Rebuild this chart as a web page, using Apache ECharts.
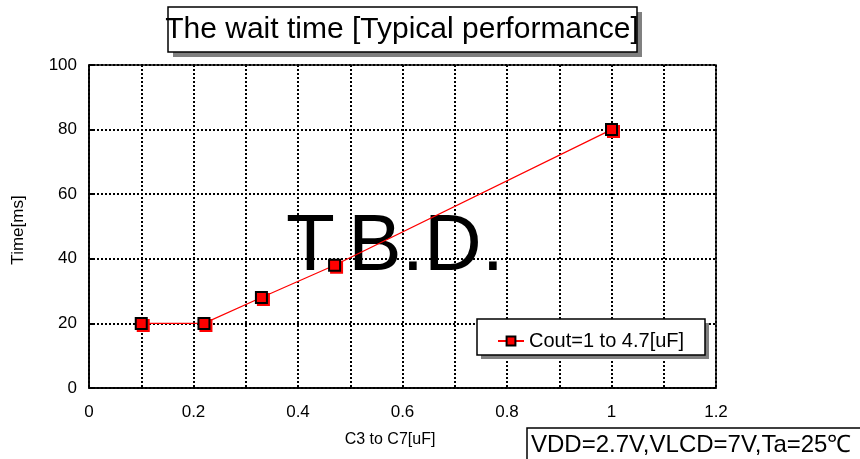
<!DOCTYPE html>
<html>
<head>
<meta charset="utf-8">
<script src="https://cdn.jsdelivr.net/npm/echarts@6/dist/echarts.min.js"></script>
<style>html,body{margin:0;padding:0;background:#fff}#c{width:860px;height:459px}</style>
</head>
<body>
<div id="c"></div>
<script>
const titleText = 'The wait time [Typical performance]';
const xName = 'C3 to C7[uF]';
const yName = 'Time[ms]';
const seriesName = 'Cout=1 to 4.7[uF]';
const noteText = 'VDD=2.7V,VLCD=7V,Ta=25℃';
const watermark = 'T.B.D.';
const xValues = [0.1, 0.22, 0.33, 0.47, 1.0];
const yValues = [20, 20, 28, 38, 80];
const xTicks = [0, 0.2, 0.4, 0.6, 0.8, 1, 1.2];

const FONT = '"Liberation Sans", Arial, sans-serif';
const chart = echarts.init(document.getElementById('c'), null, {renderer: 'canvas'});
const data = xValues.map((x, i) => [x, yValues[i]]);

chart.setOption({
  animation: false,
  backgroundColor: '#fff',
  textStyle: {fontFamily: FONT},
  grid: {left: 89, top: 65, right: 144, bottom: 71, show: false},
  xAxis: {
    type: 'value', min: 0, max: 1.2, interval: 0.1,
    axisLine: {show: true, onZero: false, lineStyle: {color: '#000', width: 1.5}},
    axisTick: {show: false},
    axisLabel: {
      color: '#000', fontSize: 17, fontFamily: FONT, margin: 16,
      formatter: v => {
        const r = Math.round(v * 10) / 10;
        return xTicks.some(t => Math.abs(t - r) < 1e-6) ? String(r) : '';
      }
    },
    splitLine: {show: true, lineStyle: {color: '#000', width: 2, type: [2, 2]}}
  },
  yAxis: {
    type: 'value', min: 0, max: 100, interval: 20,
    axisLine: {show: true, lineStyle: {color: '#000', width: 1.5}},
    axisTick: {show: true, inside: true, length: 6, lineStyle: {color: '#000', width: 2}},
    axisLabel: {color: '#000', fontSize: 17, fontFamily: FONT, margin: 12},
    splitLine: {show: true, lineStyle: {color: '#000', width: 2, type: [2, 2]}}
  },
  legend: {
    show: true,
    z: 30, zlevel: 0,
    left: 492, top: 326,
    itemWidth: 26, itemHeight: 11, itemGap: 0,
    textStyle: {color: '#000', fontSize: 20, fontFamily: FONT},
    data: [seriesName]
  },
  graphic: [
    {type: 'rect', z: 5, silent: true, shape: {x: 89, y: 65, width: 627, height: 323}, style: {fill: null, stroke: '#000', lineWidth: 1.5}},
    {type: 'text', z: 1, silent: true, style: {x: 395, y: 248, text: watermark, font: '80px ' + FONT, fill: '#000', align: 'center', verticalAlign: 'middle'}},
    {type: 'rect', z: 10, shape: {x: 173, y: 12, width: 469, height: 45}, style: {fill: '#808080'}},
    {type: 'rect', z: 11, shape: {x: 168, y: 7, width: 469, height: 45}, style: {fill: '#fff', stroke: '#000', lineWidth: 1.5}},
    {type: 'text', z: 12, style: {x: 402, y: 30, text: titleText, font: '30px ' + FONT, fill: '#000', align: 'center', verticalAlign: 'middle'}},
    {type: 'rect', z: 10, shape: {x: 481, y: 323, width: 228, height: 36}, style: {fill: '#808080'}},
    {type: 'rect', z: 11, shape: {x: 477, y: 319, width: 228, height: 36}, style: {fill: '#fff', stroke: '#000', lineWidth: 1.5}},
    {type: 'text', z: 12, style: {x: 390, y: 440, text: xName, font: '16px ' + FONT, fill: '#000', align: 'center', verticalAlign: 'middle'}},
    {type: 'text', z: 12, rotation: Math.PI / 2, x: 18, y: 230, style: {x: 0, y: 0, text: yName, font: '17px ' + FONT, fill: '#000', align: 'center', verticalAlign: 'middle'}},
    {type: 'rect', z: 11, shape: {x: 527, y: 428, width: 340, height: 40}, style: {fill: '#fff', stroke: '#000', lineWidth: 1.5}},
    {type: 'text', z: 12, style: {x: 531, y: 445, text: noteText, font: '24px ' + FONT, fill: '#000', align: 'left', verticalAlign: 'middle'}}
  ],
  series: [{
    name: seriesName,
    type: 'line',
    z: 20,
    data: data,
    symbol: 'rect',
    symbolSize: 11,
    lineStyle: {color: '#ff0000', width: 1.2},
    itemStyle: {color: '#ff0000', borderColor: '#000', borderWidth: 2, shadowColor: '#ff0000', shadowOffsetX: 2, shadowOffsetY: 2, shadowBlur: 0},
    emphasis: {disabled: true}
  }]
});
</script>
</body>
</html>
